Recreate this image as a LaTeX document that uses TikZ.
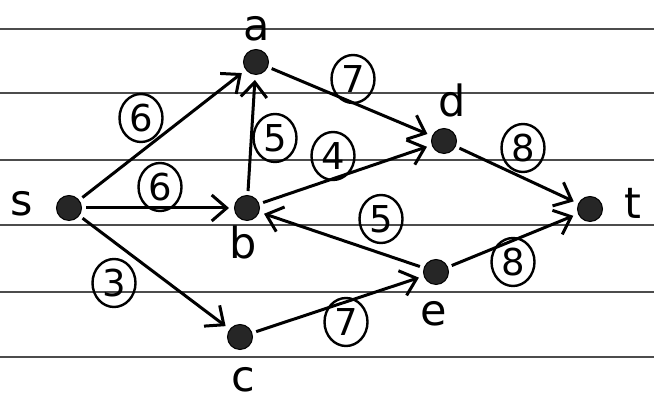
\documentclass[tikz,border=0pt]{standalone}
\usepackage{fontspec}
\setmainfont{DejaVu Sans}
\usetikzlibrary{arrows.meta,shapes.geometric}
\tikzset{
  vert/.style={circle,fill=black!85,draw=black,line width=1pt,minimum size=25pt,inner sep=0pt},
  vlabel/.style={font=\fontsize{43}{43}\selectfont,inner sep=0pt},
  wt/.style={ellipse,draw,line width=2.4pt,inner sep=0pt,minimum width=43pt,minimum height=48pt,font=\fontsize{37}{37}\selectfont},
  edge/.style={line width=3pt,-{Straight Barb[length=15pt,width=26pt,line width=3pt]},shorten >=5pt,shorten <=4pt},
  rule/.style={black!70,line width=1.3pt}
}
\begin{document}
\begin{tikzpicture}[x=1pt,y=1pt]
\useasboundingbox (0,0) rectangle (654,403);
\fill[white] (0,0) rectangle (654,403);
% ruled lines (y_tikz = 403 - y_px)
\foreach \yy in {29,93,160,225,292,357}{
  \draw[rule] (0,403-\yy) -- (654,403-\yy);
}
% vertices
\node[vert] (s) at (69,195) {};
\node[vert] (a) at (256,341) {};
\node[vert] (b) at (247,195) {};
\node[vert] (c) at (240,66) {};
\node[vert] (d) at (444,262) {};
\node[vert] (e) at (436,131) {};
\node[vert] (t) at (590,194) {};
% labels
\node[vlabel] (ls) at (22,199) {s};
\node[vlabel] (la) at (257,374) {a};
\node[vlabel] (lb) at (243,161) {b};
\node[vlabel] (lc) at (243,23) {c};
\node[vlabel] (ld) at (452,303) {d};
\node[vlabel] (le) at (434,89) {e};
\node[vlabel] (lt) at (633,200) {t};
% edges
\draw[edge] (s) -- (a);
\draw[edge] (s) -- (b);
\draw[edge] (s) -- (c);
\draw[edge] (b) -- (a);
\draw[edge] (a) -- (d);
\draw[edge] (b) -- (d);
\draw[edge] (d) -- (t);
\draw[edge] (e) -- (b);
\draw[edge] (e) -- (t);
\draw[edge] (c) -- (e);
% weights
\node[wt] (w1) at (141,285) {6};
\node[wt] (w2) at (160,216) {6};
\node[wt] (w3) at (114,120) {3};
\node[wt] (w4) at (275,265) {5};
\node[wt] (w5) at (353,324) {7};
\node[wt] (w6) at (333,247) {4};
\node[wt] (w7) at (523,255) {8};
\node[wt] (w8) at (381,184) {5};
\node[wt] (w9) at (513,141) {8};
\node[wt] (w10) at (346,81) {7};
\end{tikzpicture}
\end{document}
